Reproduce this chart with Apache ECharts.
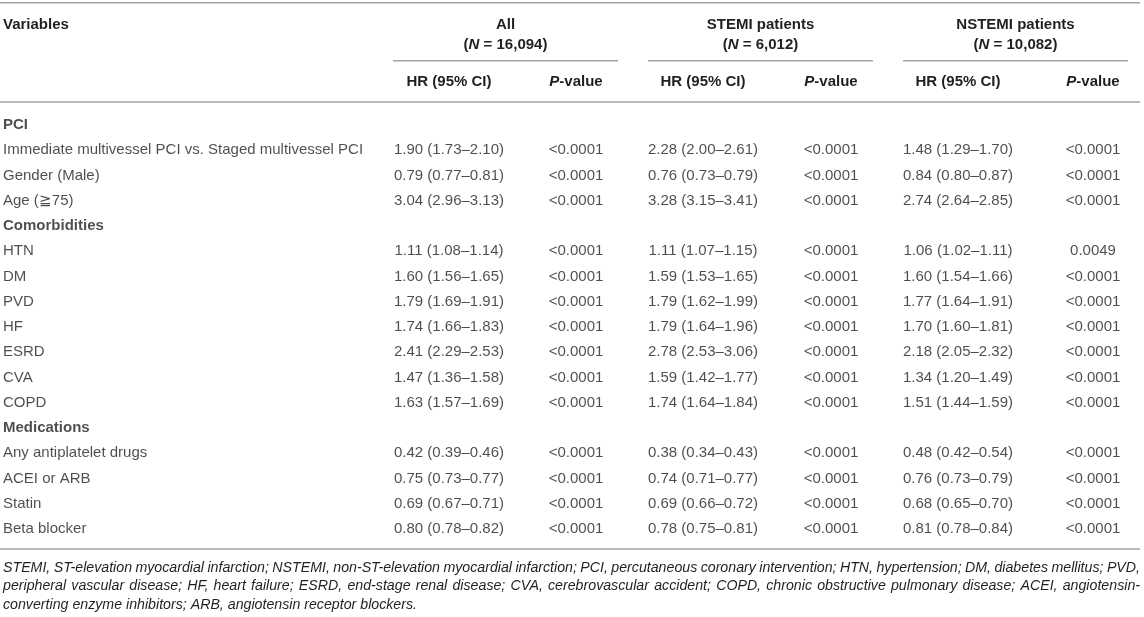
<!DOCTYPE html>
<html>
<head>
<meta charset="utf-8">
<script src="https://cdn.jsdelivr.net/npm/echarts@6/dist/echarts.min.js"></script>
<style>
html,body{margin:0;padding:0;background:#fff;}
#table{width:1144px;height:617px;}
</style>
</head>
<body>
<div id="table"></div>
<script>
var myChart = echarts.init(document.getElementById('table'));

// rows of the table body (section headings are bold)
var rowLabels = ['PCI','Immediate multivessel PCI vs. Staged multivessel PCI','Gender (Male)','Age (\u226775)',
  'Comorbidities','HTN','DM','PVD','HF','ESRD','CVA','COPD',
  'Medications','Any antiplatelet drugs','ACEI or ARB','Statin','Beta blocker'];
var sectionRows = ['PCI','Comorbidities','Medications'];

// HR [estimate, lower, upper], null for section rows
var hrAll = [null,[1.90,1.73,2.10],[0.79,0.77,0.81],[3.04,2.96,3.13],
  null,[1.11,1.08,1.14],[1.60,1.56,1.65],[1.79,1.69,1.91],[1.74,1.66,1.83],[2.41,2.29,2.53],[1.47,1.36,1.58],[1.63,1.57,1.69],
  null,[0.42,0.39,0.46],[0.75,0.73,0.77],[0.69,0.67,0.71],[0.80,0.78,0.82]];
var pAll = ['','<0.0001','<0.0001','<0.0001','','<0.0001','<0.0001','<0.0001','<0.0001','<0.0001','<0.0001','<0.0001',
  '','<0.0001','<0.0001','<0.0001','<0.0001'];
var hrStemi = [null,[2.28,2.00,2.61],[0.76,0.73,0.79],[3.28,3.15,3.41],
  null,[1.11,1.07,1.15],[1.59,1.53,1.65],[1.79,1.62,1.99],[1.79,1.64,1.96],[2.78,2.53,3.06],[1.59,1.42,1.77],[1.74,1.64,1.84],
  null,[0.38,0.34,0.43],[0.74,0.71,0.77],[0.69,0.66,0.72],[0.78,0.75,0.81]];
var pStemi = ['','<0.0001','<0.0001','<0.0001','','<0.0001','<0.0001','<0.0001','<0.0001','<0.0001','<0.0001','<0.0001',
  '','<0.0001','<0.0001','<0.0001','<0.0001'];
var hrNstemi = [null,[1.48,1.29,1.70],[0.84,0.80,0.87],[2.74,2.64,2.85],
  null,[1.06,1.02,1.11],[1.60,1.54,1.66],[1.77,1.64,1.91],[1.70,1.60,1.81],[2.18,2.05,2.32],[1.34,1.20,1.49],[1.51,1.44,1.59],
  null,[0.48,0.42,0.54],[0.76,0.73,0.79],[0.68,0.65,0.70],[0.81,0.78,0.84]];
var pNstemi = ['','<0.0001','<0.0001','<0.0001','','0.0049','<0.0001','<0.0001','<0.0001','<0.0001','<0.0001','<0.0001',
  '','<0.0001','<0.0001','<0.0001','<0.0001'];

var groupTitles = ['All','STEMI patients','NSTEMI patients'];
var groupN = ['16,094','6,012','10,082'];
var footnote = [
  'STEMI, ST-elevation myocardial infarction; NSTEMI, non-ST-elevation myocardial infarction; PCI, percutaneous coronary intervention; HTN, hypertension; DM, diabetes mellitus; PVD,',
  'peripheral vascular disease; HF, heart failure; ESRD, end-stage renal disease; CVA, cerebrovascular accident; COPD, chronic obstructive pulmonary disease; ACEI, angiotensin-',
  'converting enzyme inhibitors; ARB, angiotensin receptor blockers.'
];

// layout
var FONT = '"Liberation Sans", Arial, Helvetica, sans-serif';
var TXT = '#231f20';
var RULE = '#a3a3a3';
var groupLeft = [393, 648, 903];
var groupW = 225;
var hrX = [449, 703, 958];
var pX = [576, 831, 1093];

function fmtHR(v){
  if(!v) return '';
  return v[0].toFixed(2)+' ('+v[1].toFixed(2)+'\u2013'+v[2].toFixed(2)+')';
}

function cellSeries(x, texts, align){
  return {
    type:'scatter',
    symbolSize:0,
    silent:true,
    data:texts.map(function(t,i){
      var item = {value:[x,i], name:t};
      if(sectionRows.indexOf(t)>=0) item.label = {fontWeight:'bold'};
      return item;
    }),
    label:{
      show:true,
      position:'inside',
      align:align,
      verticalAlign:'middle',
      color:TXT,
      fontFamily:FONT,
      fontSize:15,
      formatter:function(p){return p.name;}
    }
  };
}

var graphics = [];
function hline(x1,x2,y){
  graphics.push({type:'line',silent:true,shape:{x1:x1,y1:y,x2:x2,y2:y},style:{stroke:RULE,lineWidth:1.6}});
}
function htext(x,y,text,align,rich){
  graphics.push({type:'text',silent:true,x:x,y:y,style:{
    text:text,align:align,verticalAlign:'middle',fill:TXT,
    font:'bold 15px '+FONT,
    rich:rich
  }});
}
var boldRich = {i:{fontStyle:'italic',fontWeight:'bold',fontSize:15,fontFamily:FONT,fill:TXT}};

hline(0,1140,2.7);
hline(0,1140,102);
hline(0,1140,549);
htext(3,25,'Variables','left');
for(var g=0;g<3;g++){
  hline(groupLeft[g],groupLeft[g]+groupW,60.7);
  htext(groupLeft[g]+groupW/2,25,groupTitles[g],'center');
  htext(groupLeft[g]+groupW/2,45,'({i|N} = '+groupN[g]+')','center',boldRich);
  htext(hrX[g],81.5,'HR (95% CI)','center');
  htext(pX[g],81.5,'{i|P}-value','center',boldRich);
}

// footnote, justified like the source (last line left as is)
var noteFont = 'italic 14.2px '+FONT;
var ctx = document.createElement('canvas').getContext('2d');
ctx.font = noteFont;
var noteLeft = 3, noteRight = 1140;
footnote.forEach(function(line,k){
  var y = 568 + k*18.5;
  var words = line.split(' ');
  var last = k === footnote.length-1;
  var widths = words.map(function(w){return ctx.measureText(w).width;});
  var total = widths.reduce(function(a,b){return a+b;},0);
  var space = ctx.measureText(' ').width;
  var gap = last ? space : Math.max(2,(noteRight-noteLeft-total)/(words.length-1));
  var x = noteLeft;
  words.forEach(function(w,j){
    graphics.push({type:'text',silent:true,x:x,y:y,style:{
      text:w,align:'left',verticalAlign:'middle',fill:TXT,font:noteFont
    }});
    x += widths[j]+gap;
  });
});

var option = {
  backgroundColor:'#ffffff',
  animation:false,
  grid:{left:0,right:0,top:112.4,height:429.25},
  xAxis:{type:'value',min:0,max:1144,show:false},
  yAxis:{type:'category',data:rowLabels,inverse:true,show:false},
  graphic:graphics,
  series:[
    cellSeries(3,rowLabels,'left'),
    cellSeries(hrX[0],hrAll.map(fmtHR),'center'),
    cellSeries(pX[0],pAll,'center'),
    cellSeries(hrX[1],hrStemi.map(fmtHR),'center'),
    cellSeries(pX[1],pStemi,'center'),
    cellSeries(hrX[2],hrNstemi.map(fmtHR),'center'),
    cellSeries(pX[2],pNstemi,'center')
  ]
};
myChart.setOption(option);
</script>
</body>
</html>
